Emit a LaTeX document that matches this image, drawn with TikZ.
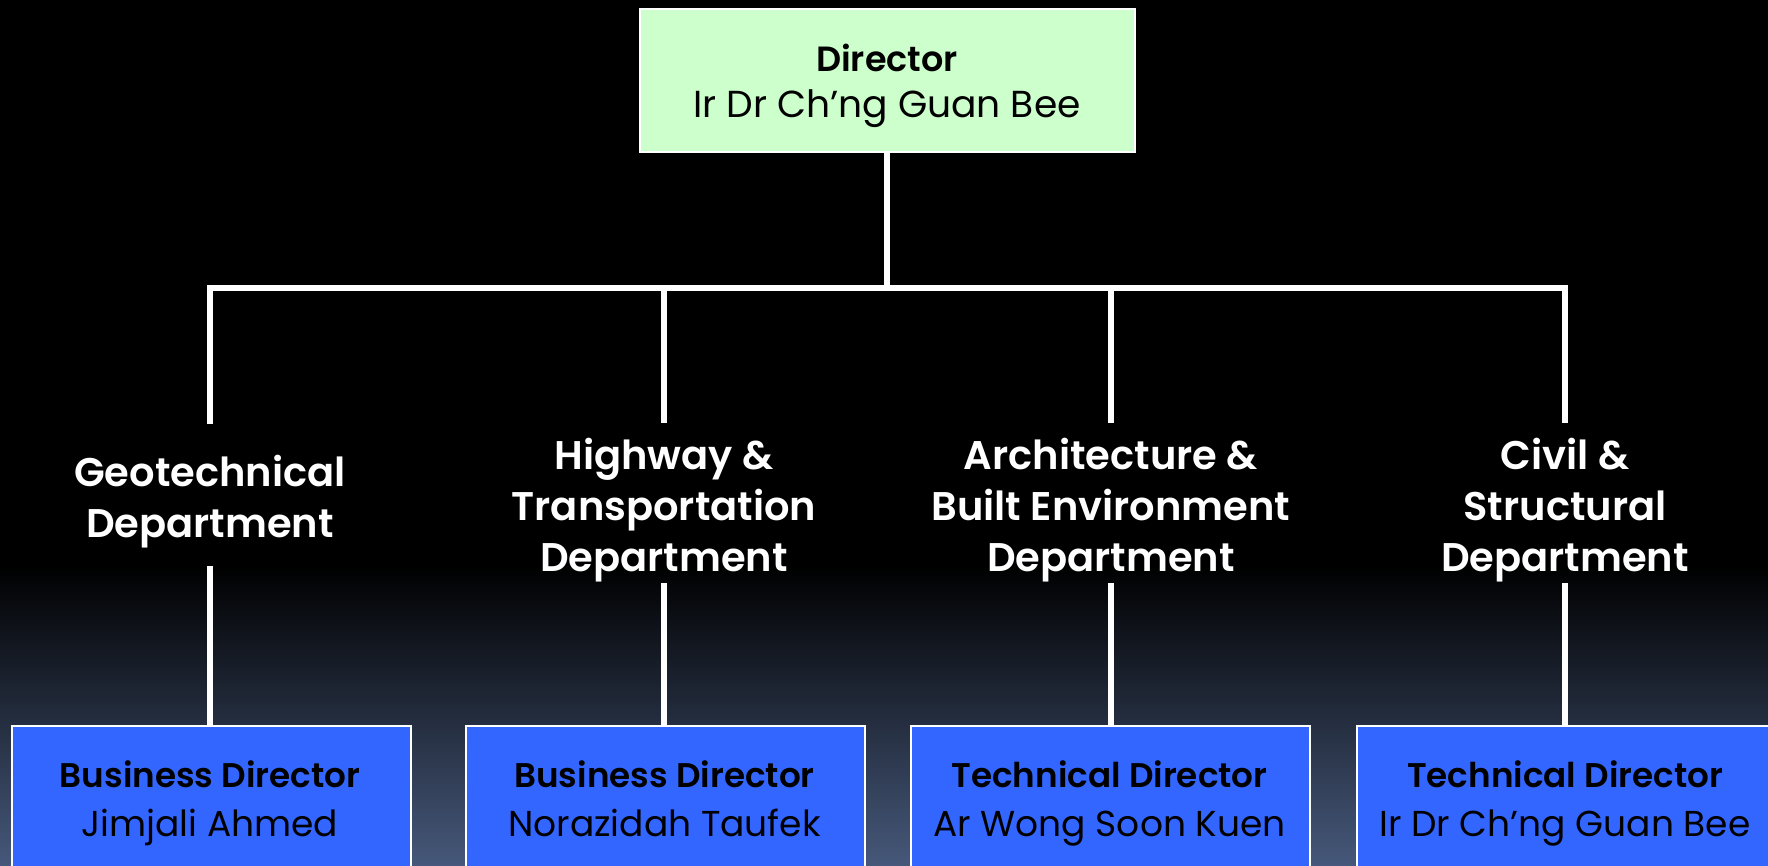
\documentclass[tikz,border=0pt]{standalone}
\usepackage{fontspec}
\setmainfont{Poppins}[BoldFont={Poppins SemiBold}]
\definecolor{dirgreen}{RGB}{204,255,204}
\definecolor{boxblue}{RGB}{51,102,255}
\definecolor{slate}{RGB}{70,88,122}
\tikzset{
  conn/.style={draw=white, line width=3pt},
  dirbox/.style={draw=white, line width=1pt, fill=dirgreen, inner sep=0pt,
    minimum width=247.5pt, minimum height=71.5pt, align=center, text=black,
    font=\fontsize{18.8}{23}\selectfont},
  leafbox/.style={draw=white, line width=1pt, fill=boxblue, inner sep=0pt, anchor=north west,
    minimum width=199.5pt, minimum height=100pt},
  leaftext/.style={align=center, inner sep=0pt, text=black, font=\fontsize{18}{24.5}\selectfont},
  deptframe/.style={inner sep=0pt, minimum width=10pt},
  dept/.style={text=white, inner sep=0pt, align=center,
    font=\bfseries\fontsize{20}{25.5}\selectfont},
}
\newcommand{\boxtitle}[1]{{\bfseries\fontsize{17.1}{24.5}\selectfont #1}}
\begin{document}
\begin{tikzpicture}[x=0.5pt,y=-0.5pt]
\useasboundingbox (0,0) rectangle (1768,866);
\clip (0,0) rectangle (1768,866);
\fill[black] (0,0) rectangle (1768,866);
\shade[top color=black, bottom color=slate] (0,565) rectangle (1768,866);

\node[dirbox] (dir) at (887,80.5) {};
\node[dirbox, draw=none, fill=none, minimum width=0pt, minimum height=0pt] (dirt) at (887,85) {{\bfseries\fontsize{17.5}{23}\selectfont Director\strut}\\Ir Dr Ch\textquoteright ng Guan Bee\strut};

\coordinate (bus) at (887,288);

% frames fixing where the connectors meet each department label
\node[deptframe, minimum height=71pt] (geo) at (210,495) {};
\node[deptframe, minimum height=80pt] (hwy) at (664,503) {};
\node[deptframe, minimum height=80pt] (arc) at (1111,503) {};
\node[deptframe, minimum height=80pt] (civ) at (1565,503) {};

\node[dept] (geot) at (210,502) {Geotechnical\\Department};
\node[dept] (hwyt) at (664,510) {Highway \&\\Transportation\\Department};
\node[dept] (arct) at (1111,510) {Architecture \&\\Built Environment\\Department};
\node[dept] (civt) at (1565,510) {Civil \&\\Structural\\Department};

\node[leafbox] (b1) at (11,725) {};
\node[leafbox] (b2) at (465,725) {};
\node[leafbox] (b3) at (910,725) {};
\node[leafbox, minimum width=215pt] (b4) at (1356,725) {};

\node[leaftext] (t1) at (210,802) {\boxtitle{Business Director\strut}\\Jimjali Ahmed\strut};
\node[leaftext] (t2) at (664.5,802) {\boxtitle{Business Director\strut}\\Norazidah Taufek\strut};
\node[leaftext] (t3) at (1109.5,802) {\boxtitle{Technical Director\strut}\\Ar Wong Soon Kuen\strut};
\node[leaftext] (t4) at (1565,802) {\boxtitle{Technical Director\strut}\\Ir Dr Ch\textquoteright ng Guan Bee\strut};

\draw[conn] (dir.south) -- (bus);
\draw[conn] (geo.north) |- (civ.north |- bus) -- (civ.north);
\draw[conn] (hwy.north) -- (hwy.north |- bus);
\draw[conn] (arc.north) -- (arc.north |- bus);

\draw[conn] (geo.south) -- (geo.south |- b1.north);
\draw[conn] (hwy.south) -- (hwy.south |- b2.north);
\draw[conn] (arc.south) -- (arc.south |- b3.north);
\draw[conn] (civ.south) -- (civ.south |- b4.north);
\end{tikzpicture}
\end{document}
